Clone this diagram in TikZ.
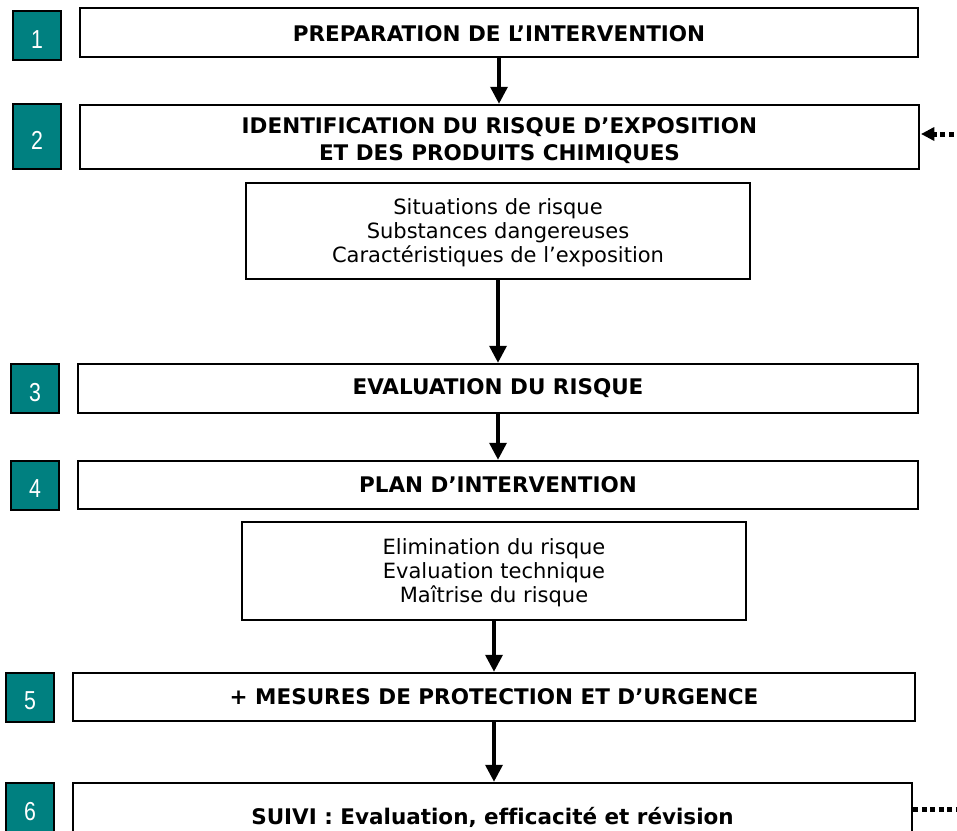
\documentclass[tikz,border=0pt]{standalone}
\usepackage{fontspec}
\setmainfont{DejaVu Sans}[Ligatures=NoCommon]
\newfontfamily\numfont{Liberation Sans}[FakeStretch=0.82]
\usetikzlibrary{arrows.meta}
\definecolor{tealbox}{RGB}{0,128,128}
\newcommand\numlow[1]{\raisebox{-4pt}[\height][0pt]{#1}}
\newcommand\sublines[1]{\raisebox{-3pt}[\height][\depth]{\begin{tabular}{@{}c@{}}#1\end{tabular}}}
\begin{document}
\begin{tikzpicture}[x=1pt,y=1pt,
  stage/.style={draw=black, line width=2.5pt, minimum height=49pt, inner sep=0pt,
    font=\bfseries\fontsize{21.5}{27}\selectfont, align=center},
  stagetext/.style={inner sep=0pt, font=\bfseries\fontsize{21.5}{27}\selectfont, align=center},
  numbox/.style={draw=black, line width=2pt, fill=tealbox, text=white,
    minimum width=48pt, minimum height=49pt, inner sep=0pt,
    font=\numfont\fontsize{26}{28}\selectfont},
  subbox/.style={draw=black, line width=2.5pt, inner sep=0pt,
    font=\fontsize{21}{24}\selectfont, align=center},
  flow/.style={line width=3.5pt, -{Triangle[width=17pt,length=17pt]}},
  dotflow/.style={line width=5pt, dash pattern=on 5pt off 3.5pt},
]
\path[use as bounding box] (0,0) rectangle (957,-830);
\clip (0,0) rectangle (957,-830);

% number boxes
\node[numbox] (n1) at (37,-35.5) {\numlow{1}};
\node[numbox, minimum height=65pt] (n2) at (37,-136.5) {\numlow{2}};
\node[numbox] (n3) at (35,-388.5) {\numlow{3}};
\node[numbox] (n4) at (35,-485) {\numlow{4}};
\node[numbox] (n5) at (30,-697) {\numlow{5}};
\node[numbox] (n6) at (30,-807) {\numlow{6}};

% main stages
\node[stage, minimum width=838pt] (A) at (499,-32.5) {\raisebox{-1.5pt}[\height][0pt]{PREPARATION DE L’INTERVENTION}};
\node[stage, minimum width=839pt, minimum height=64pt] (B) at (499.5,-137) {};
\node[stagetext] (Btext) at ([yshift=-4pt]B.center)
  {IDENTIFICATION DU RISQUE D’EXPOSITION\\ET DES PRODUITS CHIMIQUES};
\node[subbox, minimum width=504pt, minimum height=96pt] (C) at (498,-231)
  {\sublines{Situations de risque\\Substances dangereuses\\Caractéristiques de l’exposition}};
\node[stage, minimum width=840pt] (D) at (498,-388.5) {EVALUATION DU RISQUE};
\node[stage, minimum width=840pt, minimum height=48pt] (E) at (498,-485) {PLAN D’INTERVENTION};
\node[subbox, minimum width=504pt, minimum height=98pt] (F) at (494,-571)
  {\sublines{Elimination du risque\\Evaluation technique\\Maîtrise du risque}};
\node[stage, minimum width=842pt, minimum height=48pt] (G) at (494,-697)
  {+ MESURES DE PROTECTION ET D’URGENCE};
\node[stage, minimum width=839pt, minimum height=68pt] (H) at (492.5,-817)
  {SUIVI : Evaluation, efficacité et révision};

% connectors
\draw[flow] (A.south) -- (A.south |- B.north);
\draw[flow] (C.south) -- (C.south |- D.north);
\draw[flow] (D.south) -- (D.south |- E.north);
\draw[flow] (F.south) -- (F.south |- G.north);
\draw[flow] (G.south) -- (G.south |- H.north);

% dotted feedback ends
\coordinate (fbin) at (962,-134);
\draw[dotflow] (fbin) -- ([xshift=12pt]fbin -| B.east);
\fill ([xshift=1pt]fbin -| B.east) -- ++(13,7) -- ++(0,-14) -- cycle;
\coordinate (fbout) at (962,-809);
\draw[dotflow] (fbout -| H.east) -- (fbout);
\end{tikzpicture}
\end{document}
